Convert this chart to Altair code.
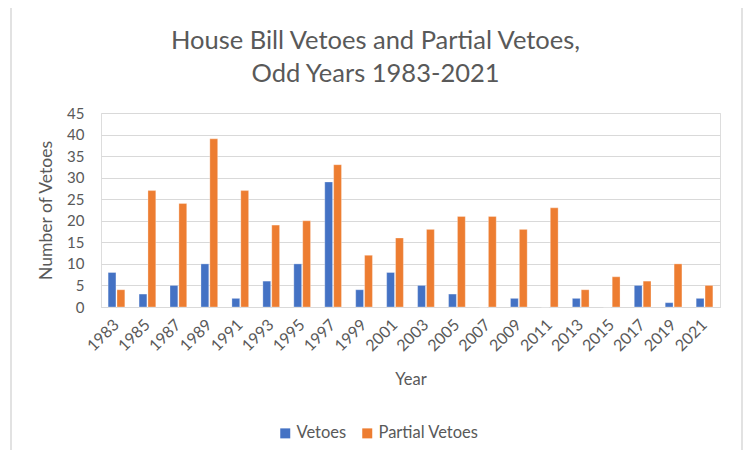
import altair as alt
import pandas as pd

years = ["1983", "1985", "1987", "1989", "1991", "1993", "1995", "1997", "1999", "2001",
         "2003", "2005", "2007", "2009", "2011", "2013", "2015", "2017", "2019", "2021"]
vetoes = [8, 3, 5, 10, 2, 6, 10, 29, 4, 8, 5, 3, 0, 2, 0, 2, 0, 5, 1, 2]
partial = [4, 27, 24, 39, 27, 19, 20, 33, 12, 16, 18, 21, 21, 18, 23, 4, 7, 6, 10, 5]
series = ["Vetoes", "Partial Vetoes"]
colors = ["#4472C4", "#ED7D31"]

rows = []
for y, v, p in zip(years, vetoes, partial):
    rows.append({"Year": y, "Series": series[0], "Value": v})
    rows.append({"Year": y, "Series": series[1], "Value": p})
df = pd.DataFrame(rows)

FONT = "Lato"
GRAY = "#595959"

bars = alt.Chart(df).mark_bar(stroke="white", strokeWidth=0.5, strokeOpacity=0.6).encode(
    x=alt.X("Year:N", sort=years,
            scale=alt.Scale(paddingInner=0.46, paddingOuter=0.23),
            axis=alt.Axis(title="Year", labelAngle=-45, labelAlign="right", labelBaseline="middle",
                          labelPadding=15, ticks=False, domainColor="#d9d9d9", domainWidth=1,
                          labelFontSize=16, labelColor=GRAY, labelFont=FONT,
                          titleFontSize=16.5, titleColor=GRAY, titleFont=FONT, titleFontWeight="normal",
                          titlePadding=18)),
    xOffset=alt.XOffset("Series:N", sort=series, scale=alt.Scale(paddingInner=0.12)),
    y=alt.Y("Value:Q", scale=alt.Scale(domain=[0, 45]),
            axis=alt.Axis(title="Number of Vetoes", values=list(range(0, 50, 5)), ticks=False,
                          domain=False, gridColor="#d9d9d9", gridWidth=1,
                          labelFontSize=15, labelColor=GRAY, labelFont=FONT, labelPadding=17,
                          titleFontSize=17.5, titleColor=GRAY, titleFont=FONT, titleFontWeight="normal",
                          titlePadding=11)),
    color=alt.Color("Series:N", sort=series, scale=alt.Scale(domain=series, range=colors),
                    legend=alt.Legend(title=None, orient="none", direction="horizontal",
                                      legendX=176, legendY=312, symbolType="square", symbolSize=100,
                                      symbolStrokeWidth=0, labelFontSize=16.5, labelColor=GRAY,
                                      labelFont=FONT, columnPadding=12, labelOffset=3)),
)

border = alt.Chart(pd.DataFrame({"a": [0]})).mark_rect(
    fill=None, stroke="#d9d9d9", strokeWidth=1.5
).encode(x=alt.value(-90), x2=alt.value(641), y=alt.value(-107), y2=alt.value(360))

chart = alt.layer(border, bars).properties(
    width=619, height=194,
    title=alt.TitleParams(["House Bill Vetoes and Partial Vetoes,", "Odd Years 1983-2021"],
                          fontSize=25.5, font=FONT, color=GRAY, fontWeight="normal",
                          anchor="middle", dx=-35, lineHeight=33, offset=-82),
    autosize=alt.AutoSizeParams(type="none"),
    padding={"left": 93, "top": 105, "right": 23, "bottom": 143},
).configure_view(stroke=None).configure(background="white")

chart.save("out.html", embed_options={"renderer": "svg", "actions": False})
